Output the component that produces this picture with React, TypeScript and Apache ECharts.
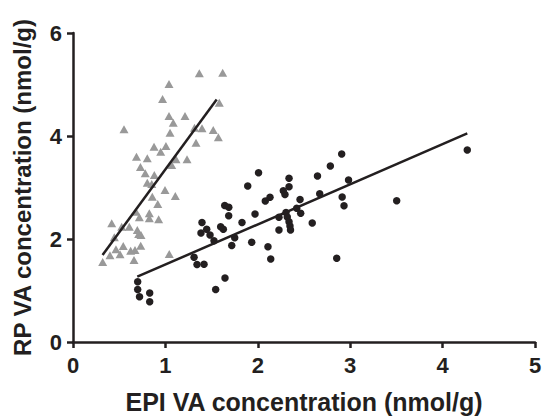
import React, { useEffect, useRef } from "react";
import * as echarts from "echarts";

// RP vs EPI (gray triangles)
const triX = [1.367, 1.62, 1.039, 0.969, 1.039, 1.085, 1.212, 0.552, 1.05, 1.315, 1.396, 1.518, 1.573, 1.331, 0.877, 1.006, 0.949, 0.687, 0.804, 1.115, 1.234, 1.068, 0.73, 0.782, 0.88, 0.804, 0.852, 0.996, 1.107, 0.858, 0.917, 0.682, 0.826, 0.826, 0.718, 0.927, 0.419, 0.527, 0.609, 0.696, 0.711, 0.736, 0.447, 0.544, 0.733, 0.465, 0.624, 0.671, 0.4, 0.509, 0.66, 1.042, 0.321, 1.583];
const triY = [5.218, 5.229, 5.01, 4.718, 4.388, 4.258, 4.388, 4.13, 4.064, 4.161, 4.15, 4.117, 3.975, 3.87, 3.792, 3.806, 3.695, 3.598, 3.567, 3.548, 3.548, 3.437, 3.398, 3.276, 3.243, 3.093, 3.068, 2.951, 2.835, 2.821, 2.68, 2.53, 2.499, 2.402, 2.421, 2.383, 2.305, 2.239, 2.239, 2.175, 2.097, 2.078, 2.033, 1.864, 1.87, 1.8, 1.773, 1.786, 1.683, 1.703, 1.592, 1.709, 1.553, 4.646];

// second group (black dots)
const dotX = [2.908, 2.785, 2.008, 2.646, 2.338, 2.982, 1.891, 2.338, 2.276, 2.294, 2.67, 2.913, 2.132, 2.081, 2.457, 2.933, 3.503, 1.642, 1.686, 1.685, 1.97, 2.421, 2.305, 2.229, 2.319, 2.464, 2.338, 1.829, 2.589, 1.396, 1.598, 1.627, 1.447, 2.348, 2.354, 2.229, 1.483, 1.385, 1.75, 1.526, 1.934, 1.718, 2.11, 1.418, 1.342, 1.31, 2.14, 2.854, 1.645, 1.544, 4.267, 0.7, 0.7, 0.72, 0.83, 0.83];
const dotY = [3.65, 3.417, 3.287, 3.223, 3.179, 3.146, 3.029, 3.016, 2.938, 2.864, 2.88, 2.816, 2.81, 2.738, 2.767, 2.645, 2.744, 2.65, 2.616, 2.45, 2.485, 2.596, 2.515, 2.421, 2.427, 2.499, 2.336, 2.32, 2.311, 2.32, 2.239, 2.188, 2.188, 2.252, 2.175, 2.175, 2.078, 2.117, 2.025, 1.967, 1.936, 1.874, 1.85, 1.511, 1.505, 1.645, 1.612, 1.625, 1.243, 1.019, 3.728, 1.17, 1.02, 0.88, 0.95, 0.78];

// regression line endpoints
const triFitX = [0.32, 1.555];
const triFitY = [1.69, 4.71];
const dotFitX = [0.696, 4.267];
const dotFitY = [1.268, 4.05];

const xTicks = [0, 1, 2, 3, 4, 5];
const yTicks = [0, 2, 4, 6];

const zip = (a: number[], b: number[]) => a.map((v, i) => [v, b[i]]);

export default function App() {
  const ref = useRef<HTMLDivElement>(null);
  useEffect(() => {
    if (!ref.current) return;
    const chart = echarts.init(ref.current, null, { renderer: "svg" });
    const ink = "#231f20";
    const font = "Liberation Sans, Arial, Helvetica, sans-serif";
    const axisCommon = {
      axisLine: { show: true, onZero: false, lineStyle: { color: ink, width: 2.5 } },
      axisTick: { show: true, inside: false, length: 6, lineStyle: { color: ink, width: 2.5 } },
      splitLine: { show: false },
      axisLabel: { color: ink, fontWeight: "bold" as const, fontSize: 22, fontFamily: font },
    };
    chart.setOption({
      animation: false,
      backgroundColor: "#ffffff",
      grid: { left: 73, right: 11, top: 33, bottom: 77, containLabel: false },
      xAxis: {
        type: "value",
        min: xTicks[0],
        max: xTicks[xTicks.length - 1],
        interval: 1,
        name: "EPI VA concentration (nmol/g)",
        nameLocation: "middle",
        nameGap: 47,
        nameTextStyle: { color: ink, fontWeight: "bold", fontSize: 25, fontFamily: font },
        ...axisCommon,
        axisLabel: { ...axisCommon.axisLabel, margin: 12 },
      },
      yAxis: {
        type: "value",
        min: yTicks[0],
        max: yTicks[yTicks.length - 1],
        interval: 2,
        name: "RP VA concentration (nmol/g)",
        nameLocation: "middle",
        nameGap: 39,
        nameTextStyle: { color: ink, fontWeight: "bold", fontSize: 24, fontFamily: font },
        ...axisCommon,
        axisLabel: { ...axisCommon.axisLabel, margin: 11 },
      },
      series: [
        {
          type: "scatter",
          data: zip(triX, triY),
          symbol: "triangle",
          symbolSize: [9, 8],
          itemStyle: { color: "#999999", opacity: 1 },
          z: 2,
        },
        {
          type: "scatter",
          data: zip(dotX, dotY),
          symbol: "circle",
          symbolSize: 7.5,
          itemStyle: { color: ink, opacity: 1 },
          z: 2,
        },
        {
          type: "line",
          data: zip(triFitX, triFitY),
          showSymbol: false,
          symbol: "none",
          lineStyle: { color: ink, width: 2.5 },
          z: 3,
        },
        {
          type: "line",
          data: zip(dotFitX, dotFitY),
          showSymbol: false,
          symbol: "none",
          lineStyle: { color: ink, width: 2.5 },
          z: 3,
        },
      ],
    });
    return () => chart.dispose();
  }, []);
  return <div ref={ref} style={{ width: 546, height: 419, position: "absolute", left: 0, top: 0 }} />;
}
